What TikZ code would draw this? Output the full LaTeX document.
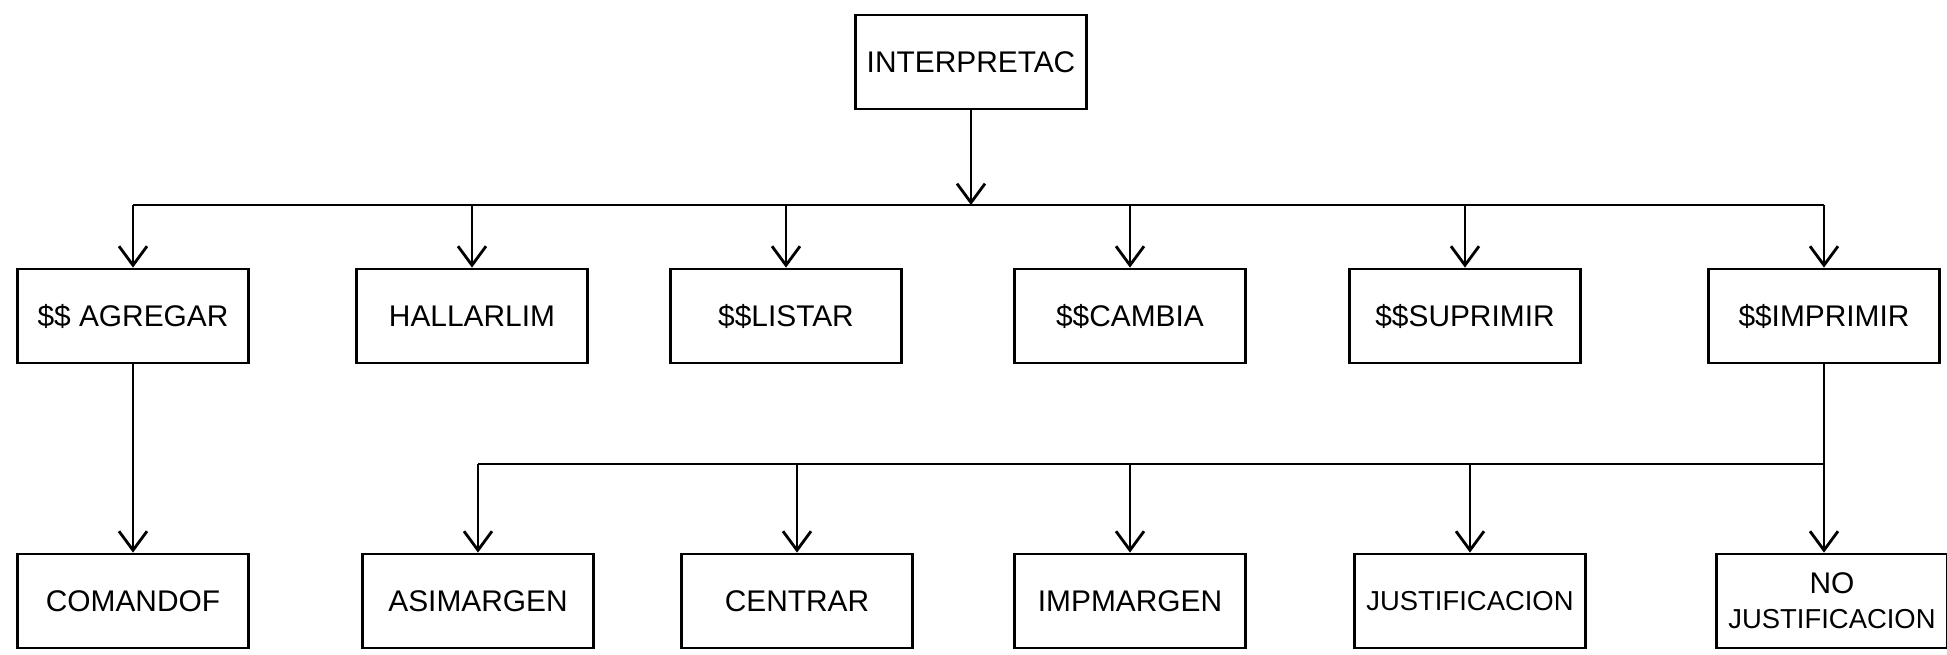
\documentclass[tikz,border=0pt]{standalone}
\usepackage{fontspec}
\setmainfont{Liberation Sans}
\usetikzlibrary{arrows.meta}

\begin{document}
\begin{tikzpicture}[
        box/.style={draw, line width=0.8pt, minimum width=2.31cm, minimum height=0.94cm,
            inner sep=1pt, align=center, font=\fontsize{8.5}{10}\selectfont},
        wire/.style={line width=0.8pt},
        arr/.style={wire, -{Straight Barb[length=1.9mm, width=2.8mm]}}
    ]
        \useasboundingbox (0,0) rectangle (19.47,6.54);

        % Top box
        \node[box] (interp) at (9.71,5.92) {INTERPRETAC};

        % First level
        \def\yA{3.38} % row of the commands
        \foreach \name/\x/\txt in {agregar/1.33/{\$\$ AGREGAR}, hallar/4.72/HALLARLIM,
                listar/7.86/{\$\$LISTAR}, cambia/11.30/{\$\$CAMBIA},
                suprimir/14.65/{\$\$SUPRIMIR}, imprimir/18.24/{\$\$IMPRIMIR}} {
            \node[box] (\name) at (\x,\yA) {\txt};
        }

        % Second level
        \def\yB{0.53} % row of the routines
        \foreach \name/\x/\txt in {comandof/1.33/COMANDOF, asimargen/4.78/ASIMARGEN,
                centrar/7.97/CENTRAR, impmargen/11.30/IMPMARGEN,
                justif/14.70/{\fontsize{7.8}{9}\selectfont JUSTIFICACION},
                nojustif/18.32/{NO\\\fontsize{7.8}{9}\selectfont JUSTIFICACION}} {
            \node[box] (\name) at (\x,\yB) {\txt};
        }

        % Upper bus
        \coordinate (busA) at (0,4.49);
        \draw[arr] (interp.south) -- (interp.south |- busA); % into the bus
        \draw[wire] (agregar.north |- busA) -- (imprimir.north |- busA);
        \foreach \name in {agregar,hallar,listar,cambia,suprimir,imprimir} {
            \draw[arr] (\name.north |- busA) -- (\name.north); % drop
        }

        % Lower bus
        \coordinate (busB) at (0,1.90);
        \draw[arr] (agregar.south) -- (comandof.north);
        \draw[arr] (imprimir.south) -- (imprimir.south |- nojustif.north);
        \draw[wire] (asimargen.north |- busB) -- (imprimir.south |- busB);
        \foreach \name in {asimargen,centrar,impmargen,justif} {
            \draw[arr] (\name.north |- busB) -- (\name.north); % drop
        }
    \end{tikzpicture}
\end{document}
